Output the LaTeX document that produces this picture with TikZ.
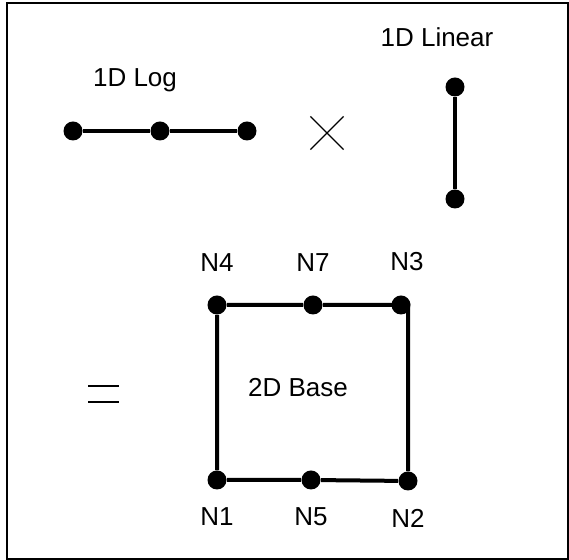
\documentclass[tikz,border=0pt]{standalone}
\usepackage{fontspec}
\setmainfont{Liberation Sans}
\usetikzlibrary{positioning,shapes.misc}

\begin{document}
\begin{tikzpicture}[x=0.5pt,y=-0.5pt,
    vtx/.style={circle, fill=black, inner sep=0pt, minimum size=9.5pt},
    lbl/.style={font=\fontsize{13}{15}\selectfont},
    edge/.style={line width=2pt},
    thinline/.style={line width=0.6pt}]
  \useasboundingbox (0,0) rectangle (569,560);
  \draw[line width=1pt] (6.5,3.5) rectangle (568,559);

  % 1D log
  \node[lbl] (loglbl) at (135,80) {1D Log};
  \node[vtx] (l1) at (73,131) {};
  \node[vtx] (l2) at (160,131) {};
  \node[vtx] (l3) at (247,131) {};
  \draw[edge] (l1) -- (l2) -- (l3);

  % times
  \node[cross out, draw, thinline, minimum size=16pt, inner sep=0pt] (times) at (327,133) {};

  % 1D linear
  \node[lbl] (linlbl) at (437,37) {1D Linear};
  \node[vtx] (r1) at (455,87) {};
  \node[vtx] (r2) at (455,199) {};
  \draw[edge] (r1) -- (r2);

  % equals
  \coordinate (eqa) at (88,386);
  \coordinate (eqb) at (119,386);
  \coordinate (eqc) at (88,402);
  \coordinate (eqd) at (119,402);
  \draw[thinline] (eqa) -- (eqb) (eqc) -- (eqd);

  % 2D base
  \node[vtx] (n4) at (217,305) {};
  \node[vtx] (n7) at (313,305) {};
  \node[vtx] (n3) at (401,305) {};
  \node[vtx] (n1) at (217,480) {};
  \node[vtx] (n5) at (311,480) {};
  \node[vtx] (n2) at (408,481) {};
  \coordinate (c3) at (408,305);
  \draw[edge] (n1) -- (n4) -- (n7) -- (c3) -- (n2) -- (n5) -- (n1);
  \node[lbl] (base) at (298,388) {2D Base};

  \node[lbl, above=8.5pt of n4] (t4) {N4};
  \node[lbl, above=8.5pt of n7] (t7) {N7};
  \node[lbl, above=8.5pt of n3, xshift=3pt] (t3) {N3};
  \node[lbl, below=5.5pt of n1] (t1) {N1};
  \node[lbl, below=5.5pt of n5] (t5) {N5};
  \node[lbl, below=5.5pt of n2] (t2) {N2};
\end{tikzpicture}
\end{document}
